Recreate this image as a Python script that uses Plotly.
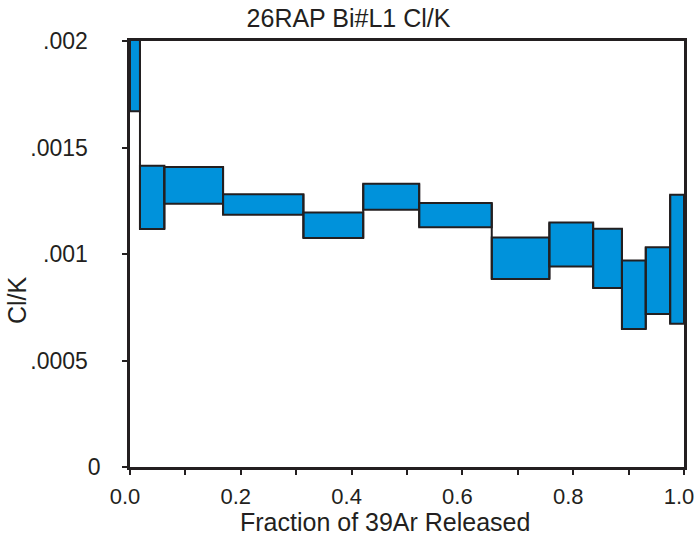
import plotly.graph_objects as go

# step edges (cumulative fraction of 39Ar released)
step_edges = [0.0, 0.018, 0.062, 0.168, 0.313, 0.421, 0.522, 0.653, 0.757,
              0.836, 0.888, 0.931, 0.975, 1.0]
# Cl/K envelope of each step (low / high of the box)
clk_low = [0.00167, 0.001117, 0.001236, 0.001184, 0.001075, 0.001208, 0.001126,
           0.000883, 0.000941, 0.000840, 0.000648, 0.000718, 0.000672]
clk_high = [0.00240, 0.001414, 0.001408, 0.001281, 0.001195, 0.001330, 0.001239,
            0.001078, 0.001148, 0.001118, 0.000969, 0.001032, 0.001278]

y_tickvals = [0, 0.0005, 0.001, 0.0015, 0.002]
y_ticktext = ["0", ".0005\u00a0\u00a0", ".001\u00a0\u00a0", ".0015\u00a0\u00a0", ".002\u00a0\u00a0"]
x_tickvals = [0.0, 0.2, 0.4, 0.6, 0.8, 1.0]
x_ticktext = ["0.0", "0.2", "0.4", "0.6", "0.8", "1.0"]

INK = "#231f20"
FILL = "#0092db"
FONT = "Liberation Sans, Arial, sans-serif"

centers = [(a + b) / 2 for a, b in zip(step_edges[:-1], step_edges[1:])]
widths = [b - a for a, b in zip(step_edges[:-1], step_edges[1:])]
heights = [h - l for l, h in zip(clk_low, clk_high)]

# vertical connectors between consecutive steps
cx, cy = [], []
for i in range(len(clk_low) - 1):
    x = step_edges[i + 1]
    cx += [x, x, None]
    cy += [min(clk_low[i], clk_low[i + 1]), max(clk_high[i], clk_high[i + 1]), None]

fig = go.Figure()
fig.add_trace(go.Bar(
    x=centers, y=heights, base=clk_low, width=widths,
    marker=dict(color=FILL, line=dict(color=INK, width=2)),
    hoverinfo="skip", showlegend=False,
))
fig.add_trace(go.Scatter(
    x=cx, y=cy, mode="lines", line=dict(color=INK, width=2),
    hoverinfo="skip", showlegend=False, cliponaxis=True,
))

fig.update_layout(
    width=697, height=536,
    margin=dict(l=130, r=13, t=41, b=69, pad=0, autoexpand=False),
    paper_bgcolor="white", plot_bgcolor="white",
    font=dict(family=FONT, color=INK, size=23),
    title=dict(text="26RAP Bi#L1 Cl/K", x=0.5, xref="container", xanchor="center",
               y=1 - 18 / 536, yref="container", yanchor="middle",
               font=dict(size=25, color=INK)),
)
fig.update_xaxes(
    range=[0, 1], tickvals=x_tickvals, ticktext=x_ticktext,
    ticks="outside", ticklen=5, tickwidth=2, tickcolor=INK,
    minor=dict(dtick=0.1, tick0=0, ticks="outside", ticklen=5, tickwidth=2, tickcolor=INK),
    showline=True, linecolor=INK, linewidth=2.5, mirror=True,
    showgrid=False, zeroline=False, layer="above traces", automargin=False,
    ticklabelstandoff=3, ticklabelshift=-5,
    tickfont=dict(size=22, color=INK),
)
fig.update_yaxes(
    range=[0, 0.002], tickvals=y_tickvals, ticktext=y_ticktext,
    ticks="outside", ticklen=5, tickwidth=2, tickcolor=INK,
    showline=True, linecolor=INK, linewidth=2.5, mirror=True,
    showgrid=False, zeroline=False, layer="above traces", automargin=False,
    ticklabelstandoff=17,
    tickfont=dict(size=23, color=INK),
)

fig.add_annotation(text="Fraction of 39Ar Released", xref="paper", yref="paper",
                   x=(385 - 130) / 554, y=-(522 - 467) / 426,
                   xanchor="center", yanchor="middle", showarrow=False,
                   font=dict(size=25, color=INK))
fig.add_annotation(text="Cl/K", xref="paper", yref="paper", textangle=-90,
                   x=(17 - 130) / 554, y=(467 - 300) / 426,
                   xanchor="center", yanchor="middle", showarrow=False,
                   font=dict(size=25, color=INK))

fig.write_html("out.html", config={"displayModeBar": False},
               post_script="document.body.style.margin='0';")
